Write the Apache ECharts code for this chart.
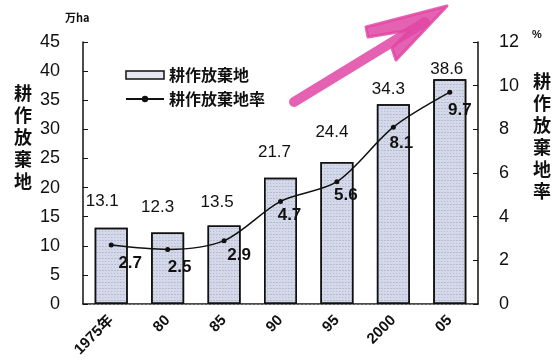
<!DOCTYPE html>
<html>
<head>
<meta charset="utf-8">
<script src="https://cdn.jsdelivr.net/npm/echarts@6/dist/echarts.min.js"></script>
<style>
  html, body { margin: 0; padding: 0; background: #fff; }
  #chart { width: 558px; height: 363px; }
</style>
</head>
<body>
<div id="chart"></div>
<script>
// Abandoned farmland in Japan, 1975–2005
const years = ['1975年', '80', '85', '90', '95', '2000', '05'];
const abandonedArea = [13.1, 12.3, 13.5, 21.7, 24.4, 34.3, 38.6];   // 万ha
const abandonedRate = [2.7, 2.5, 2.9, 4.7, 5.6, 8.1, 9.7];         // %
const areaTicks = { min: 0, max: 45, interval: 5 };
const rateTicks = { min: 0, max: 12, interval: 2 };

// label placement tweaks
const barLabelGap = [18, 17, 15, 17, 21, 6, 1];
const barLabelShiftX = [-9, -10, -7, -6, -5, -5, -3];
const lineLabelShift = [[19, 18], [12, 18], [15, 15], [9, 14], [9, 14], [8, 16], [10, 18]];

const FONT = "'Liberation Sans Narrow', 'Liberation Sans', Arial, sans-serif";
const CJK = "'Noto Sans CJK JP', sans-serif";

const chart = echarts.init(document.getElementById('chart'), null, { renderer: 'canvas' });

const barData = abandonedArea.map((v, i) => ({
  value: v,
  label: { distance: barLabelGap[i], offset: [barLabelShiftX[i], 0] }
}));
const lineData = abandonedRate.map((v, i) => ({
  value: v,
  label: { offset: lineLabelShift[i] }
}));

chart.setOption({
  animation: false,
  backgroundColor: '#fff',
  grid: { left: 83, right: 80, top: 42, bottom: 59 },
  legend: {
    orient: 'vertical',
    left: 120,
    top: 62,
    itemWidth: 38,
    itemHeight: 8,
    itemGap: 8,
    textStyle: { fontFamily: CJK, fontSize: 16, fontWeight: 'bold', color: '#111' },
    data: [
      { name: '耕作放棄地', icon: 'rect', itemStyle: { color: '#e6e9f2', borderColor: '#111', borderWidth: 1.5, decal: 'none' } },
      { name: '耕作放棄地率' }
    ]
  },
  xAxis: [
    {
      type: 'category',
      data: years,
      axisLine: { lineStyle: { color: '#111', width: 1.5 } },
      axisTick: { show: false },
      axisLabel: {
        rotate: 45, margin: 14, fontSize: 15, fontWeight: 'bold', color: '#111',
        fontFamily: FONT + ", " + CJK
      }
    },
    {
      type: 'category',
      data: years,
      position: 'top',
      axisLine: { lineStyle: { color: '#888', width: 1, type: [2, 2] } },
      axisTick: { show: false },
      axisLabel: { show: false }
    }
  ],
  yAxis: [
    {
      type: 'value',
      min: areaTicks.min, max: areaTicks.max, interval: areaTicks.interval,
      axisLine: { show: true, lineStyle: { color: '#111', width: 1.5 } },
      axisTick: { show: true, inside: true, length: 5, lineStyle: { color: '#111' } },
      splitLine: { show: false },
      axisLabel: { margin: 23, fontSize: 18, color: '#111', fontFamily: FONT }
    },
    {
      type: 'value',
      position: 'right',
      min: rateTicks.min, max: rateTicks.max, interval: rateTicks.interval,
      axisLine: { show: true, lineStyle: { color: '#111', width: 1.5 } },
      axisTick: { show: true, inside: true, length: 5, lineStyle: { color: '#111' } },
      splitLine: { show: false },
      axisLabel: { margin: 21, fontSize: 18, color: '#111', fontFamily: FONT }
    }
  ],
  series: [
    {
      name: '耕作放棄地',
      type: 'bar',
      xAxisIndex: 0,
      yAxisIndex: 0,
      barWidth: 33,
      data: barData,
      itemStyle: {
        color: '#d4d9e9',
        borderColor: '#111',
        borderWidth: 1.5,
        decal: {
          symbol: 'rect',
          symbolSize: 1,
          dashArrayX: [[1, 2], [2, 1]],
          dashArrayY: [1, 2],
          color: 'rgba(150,150,185,0.45)',
          rotation: 0
        }
      },
      label: {
        show: true,
        position: 'top',
        fontSize: 17,
        color: '#111',
        fontFamily: FONT
      }
    },
    {
      name: '耕作放棄地率',
      type: 'line',
      xAxisIndex: 0,
      yAxisIndex: 1,
      smooth: 0.3,
      data: lineData,
      symbol: 'circle',
      symbolSize: 5,
      lineStyle: { color: '#111', width: 1.5 },
      itemStyle: { color: '#111' },
      label: {
        show: true,
        position: 'inside',
        fontSize: 17,
        fontWeight: 'bold',
        color: '#111',
        fontFamily: FONT
      },
      z: 5
    }
  ],
  graphic: [
    {
      type: 'text', left: 14, top: 82,
      style: {
        text: '耕\n作\n放\n棄\n地', fontSize: 18, fontWeight: 'bold',
        lineHeight: 22, fill: '#111', fontFamily: CJK
      }
    },
    {
      type: 'text', left: 533, top: 70,
      style: {
        text: '耕\n作\n放\n棄\n地\n率', fontSize: 18, fontWeight: 'bold',
        lineHeight: 22, fill: '#111', fontFamily: CJK
      }
    },
    {
      type: 'text', left: 65, top: 12,
      style: { text: '万ha', fontSize: 11, fontWeight: 'bold', fill: '#111', fontFamily: CJK }
    },
    {
      type: 'text', left: 532, top: 29,
      style: { text: '%', fontSize: 11, fontWeight: 'bold', fill: '#111', fontFamily: FONT }
    },
    // pink marker arrow
    {
      type: 'polyline', z: 100,
      shape: { points: [[294, 102], [425, 22]] },
      style: { stroke: 'rgba(224,70,165,0.85)', lineWidth: 10, lineCap: 'round', fill: null }
    },
    {
      type: 'polygon', z: 100,
      shape: { points: [[366, 27], [447, 6], [396, 60], [392, 48], [410, 30], [368, 37]] },
      style: { fill: 'rgba(224,70,165,0.85)', stroke: 'rgba(224,70,165,0.85)', lineWidth: 3, lineJoin: 'round' }
    }
  ]
});
</script>
</body>
</html>
